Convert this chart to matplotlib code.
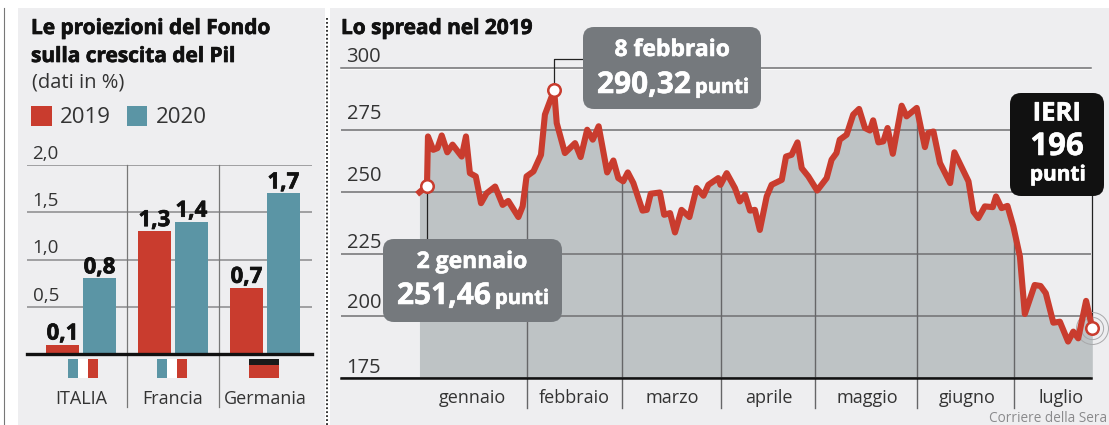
import matplotlib
matplotlib.use('Agg')
import matplotlib.pyplot as plt
import matplotlib.patheffects as pe
import numpy as np
from matplotlib.patches import FancyBboxPatch, Rectangle

plt.rcParams['font.family'] = ['Open Sans', 'DejaVu Sans']

# left chart
countries = ['ITALIA', 'Francia', 'Germania']
values_2019 = [0.1, 1.3, 0.7]
values_2020 = [0.8, 1.4, 1.7]
growth_ticks = [0.5, 1.0, 1.5, 2.0]
growth_tick_labels = ['0,5', '1,0', '1,5', '2,0']

# right chart, day of the year and spread points
spread_days = [-0.3, 2, 2.3, 3.9, 5.2, 6.5, 8.2, 9.8, 12.6, 13.9, 15.1, 16.9, 18.5, 20.2, 22.8, 25.1, 26.8, 29.9,
               31.2, 32.4, 34.5, 36.8, 38, 40.1, 40.8, 41.6, 44.1, 47.2, 48.9, 50.9, 52.6, 54.4, 57, 58.9, 60.4,
               61.9, 63.3, 65, 67.8, 69.1, 70.3, 73.1, 74.4, 76.2, 77.7, 79.7, 82.1, 84.3, 86.4, 87.9, 90.9, 91.6,
               93.5, 96, 97.5, 99.1, 100.6, 102.1, 103.6, 105.7, 107.2, 110.3, 111.6, 113.3, 115.1, 116.4, 118.4,
               121.1, 124, 125.5, 127, 128, 130.1, 132.1, 133.9, 135.7, 137.2, 138.2, 139.8, 141.3, 142.6, 144.2,
               146.9, 148.4, 151.5, 154, 155, 156.6, 158.6, 161.7, 163, 167.3, 168.8, 170.3, 172.3, 174.7, 175.7,
               177.4, 179.2, 181, 183, 184.5, 187.5, 189.3, 190.9, 193.2, 195.2, 197.7, 199.3, 200.8, 203.2, 205.1]
spread_values = [249.9, 252.5, 272.4, 267, 267.7, 272.8, 266, 269.1, 264.3, 272.4, 257.6, 256.3, 245.5, 249.5, 252.2,
                 244.8, 246.4, 239.9, 244.2, 256.3, 258.3, 265, 281.2, 288.6, 291.3, 277.8, 265.7, 269.7, 264.1,
                 275.1, 271.1, 276.5, 257.9, 262.7, 255.6, 254.3, 257.9, 253.6, 242.5, 242.8, 249.3, 249.8, 240.8,
                 241.5, 233.7, 242.8, 239.9, 251.6, 248.5, 252.9, 255.6, 252.9, 257.6, 251.6, 246.2, 248.9, 242.5,
                 242.8, 234.7, 248.2, 252.9, 254.9, 264.3, 265, 270, 259.6, 256.3, 250.6, 255.6, 263, 265.7, 271.1,
                 273.1, 281.2, 283.5, 275.8, 274.8, 278.9, 270, 270.4, 275.8, 265.4, 284.8, 280.5, 283.9, 268.1,
                 273.8, 274.4, 261.7, 253.6, 266, 254.3, 242.1, 239.5, 244.2, 243.9, 248.2, 243.5, 244.4, 236.1,
                 224, 200.8, 212.5, 212.1, 209.2, 197.3, 197.7, 189.7, 193.7, 191, 206.1, 195]
spread_ticks = [175, 200, 225, 250, 275, 300]
months = ['gennaio', 'febbraio', 'marzo', 'aprile', 'maggio', 'giugno', 'luglio']
month_label_days = [16, 46.9, 76.8, 106.4, 136.3, 166.8, 195.5]
month_edges = [32.5, 61.5, 91.7, 120.4, 151.6, 181.2]

W, H = 1109, 425
RED = '#C93C2E'
TEAL = '#5B95A5'
PANEL = '#EEEEF0'
TEXT = '#333333'
BOX = '#75797D'
HEAVY = [pe.withStroke(linewidth=0.5, foreground='#111111')]
HEAVY_WHITE = [pe.withStroke(linewidth=0.4, foreground='white')]


def px_axes(left, top, right, bottom, **kw):
    return fig.add_axes([left / W, 1 - bottom / H, (right - left) / W, (bottom - top) / H], **kw)


def callout(x0, y0, x1, y1, color):
    overlay.add_patch(FancyBboxPatch((x0 + 9, y0 + 9), x1 - x0 - 18, y1 - y0 - 18,
                                     boxstyle='round,pad=9,rounding_size=11', fc=color, ec='none', zorder=3))


def white_text(tx, ty, label, size, **kw):
    overlay.text(tx, ty, label, fontsize=size, fontweight='bold', color='white', zorder=4, path_effects=HEAVY_WHITE, **kw)


fig = plt.figure(figsize=(W / 100, H / 100), dpi=100, facecolor='white')

# panels behind everything
back = px_axes(0, 0, W, H, zorder=0)
back.set_xlim(0, W)
back.set_ylim(H, 0)
back.axis('off')
back.add_patch(Rectangle((18, 8), 307, 417, fc=PANEL, ec='none'))
back.add_patch(Rectangle((330, 8), 779, 417, fc=PANEL, ec='none'))
back.plot([4, 4], [8, 425], color='#777777', lw=0.8)
back.plot([326.5, 326.5], [18, 425], color='#222222', lw=1.3, ls=(0, (1, 1.2)))

# growth bars
ax = px_axes(27, 165, 312, 354, zorder=1)
ax.patch.set_visible(False)
x = np.arange(len(countries))
ax.set_xlim(-0.587, 2.511)
ax.set_ylim(0, 2)
for tick in growth_ticks:
    ax.axhline(tick, color='#8A8A8C', lw=1.1, zorder=1)
for edge in [0.5, 1.5]:
    ax.plot([edge, edge], [-0.56, 2], color='#777777', lw=0.9, clip_on=False, zorder=1)
bars_2019 = ax.bar(x - 0.201, values_2019, 0.364, color=RED, zorder=2)
bars_2020 = ax.bar(x + 0.201, values_2020, 0.364, color=TEAL, zorder=2)
for bars, vals in [(bars_2019, values_2019), (bars_2020, values_2020)]:
    for bar, val in zip(bars, vals):
        ax.annotate(f'{val:.1f}'.replace('.', ','), (bar.get_x() + bar.get_width() / 2, val), xytext=(0, 0),
                    textcoords='offset points', ha='center', va='bottom', fontsize=16, fontweight='bold',
                    color='#111111', zorder=3, path_effects=HEAVY)
for tick, label in zip(growth_ticks, growth_tick_labels):
    ax.annotate(label, (0, tick), xycoords=('axes fraction', 'data'), xytext=(4, 1.5), textcoords='offset points',
                ha='left', va='bottom', fontsize=13.5, color=TEXT)
ax.set_xticks(x, countries)
ax.tick_params(axis='x', length=0, pad=26, labelsize=13, labelcolor=TEXT)
ax.set_yticks([])
for side in ['top', 'left', 'right']:
    ax.spines[side].set_visible(False)
ax.spines['bottom'].set_linewidth(2.4)
ax.spines['bottom'].set_color('#111111')

# spread chart
ax2 = px_axes(341, 68, 1091, 378, zorder=1)
ax2.patch.set_visible(False)
ax2.set_xlim(-24.25, 204.7)
ax2.set_ylim(175, 300)
ax2.fill_between(spread_days, spread_values, 175, color='#BEC3C5', lw=0, zorder=1, clip_on=False)
for tick, dy in zip(spread_ticks, [0, 2, 1, 4, 4, 1]):
    gridline = ax2.axhline(tick, color='#707072', lw=1.1, zorder=2)
    if tick == 300:
        gridline.set_clip_on(False)
        gridline.set_path_effects([pe.SimpleLineShadow(offset=(0, -1), shadow_color='white', alpha=1), pe.Normal()])
    ax2.annotate(str(tick), (0, tick), xycoords=('axes fraction', 'data'), xytext=(4, dy),
                 textcoords='offset points', ha='left', va='bottom', fontsize=14.5, color=TEXT)
for edge in month_edges:
    ax2.plot([edge, edge], [163, np.interp(edge, spread_days, spread_values)], color='#666668', lw=1.0,
             clip_on=False, zorder=2)
ax2.plot(spread_days, spread_values, color=RED, lw=4.4, solid_joinstyle='round', clip_on=False, zorder=4)
ax2.set_xticks(month_label_days, months)
ax2.tick_params(axis='x', length=0, pad=8, labelsize=13, labelcolor=TEXT)
ax2.set_yticks([])
for side in ['top', 'left', 'right']:
    ax2.spines[side].set_visible(False)
ax2.spines['bottom'].set_linewidth(1.8)
ax2.spines['bottom'].set_color('#111111')

# connectors and markers
ax2.plot([spread_days[1], spread_days[1]], [spread_values[1], 229], color='#222222', lw=0.9, zorder=3)
ax2.plot([spread_days[24], spread_days[24], 50], [spread_values[24], 303.5, 303.5], color='#222222', lw=0.9,
         clip_on=False, zorder=3)
ax2.plot([spread_days[-1], spread_days[-1]], [spread_values[-1], 250], color='#222222', lw=0.9, clip_on=False, zorder=3)
for i in [1, 24, -1]:
    ax2.plot(spread_days[i], spread_values[i], 'o', ms=9, mfc='white', mec=RED, mew=1.8, clip_on=False, zorder=6)
for size in [16, 23]:
    ax2.plot(spread_days[-1], spread_values[-1], 'o', ms=size, mfc='none', mec='#A8A8AA', mew=0.7, clip_on=False,
             zorder=3)

# texts in pixel positions
overlay = px_axes(0, 0, W, H, zorder=5)
overlay.set_xlim(0, W)
overlay.set_ylim(H, 0)
overlay.axis('off')

overlay.text(31, 34, 'Le proiezioni del Fondo', fontsize=15, fontweight='bold', color='#111111', va='baseline',
             path_effects=HEAVY)
overlay.text(31, 62, 'sulla crescita del Pil', fontsize=15, fontweight='bold', color='#111111', va='baseline',
             path_effects=HEAVY)
overlay.text(32, 87, '(dati in %)', fontsize=14.5, color=TEXT, va='baseline')
overlay.text(341, 34, 'Lo spread nel 2019', fontsize=15, fontweight='bold', color='#111111', va='baseline',
             path_effects=HEAVY)

overlay.add_patch(Rectangle((31, 106), 21, 20, fc=RED, ec='none'))
overlay.add_patch(Rectangle((127, 106), 20, 20, fc=TEAL, ec='none'))
overlay.text(60, 117, '2019', fontsize=16, color=TEXT, va='center')
overlay.text(156, 117, '2020', fontsize=16, color=TEXT, va='center')

# flags
for fx in [68, 157]:
    overlay.add_patch(Rectangle((fx, 359), 10, 19, fc=TEAL, ec='none'))
    overlay.add_patch(Rectangle((fx + 10, 359), 10, 19, fc='white', ec='none'))
    overlay.add_patch(Rectangle((fx + 20, 359), 10, 19, fc=RED, ec='none'))
overlay.add_patch(Rectangle((249, 359), 30, 6, fc='#1A1A1A', ec='none'))
overlay.add_patch(Rectangle((249, 365), 30, 13, fc=RED, ec='none'))

callout(383, 239, 562, 322, BOX)
white_text(472, 262, '2 gennaio', 16.5, ha='center', va='center')
white_text(397, 304, '251,46', 21.5, va='baseline')
white_text(495, 304, 'punti', 14.5, va='baseline')

callout(583, 27, 761, 109, BOX)
white_text(672, 50, '8 febbraio', 16.5, ha='center', va='center')
white_text(597, 93, '290,32', 21.5, va='baseline')
white_text(695, 93, 'punti', 14.5, va='baseline')

callout(1010, 93, 1104, 196, '#111111')
white_text(1057, 113, 'IERI', 18.5, ha='center', va='center')
white_text(1057, 147, '196', 22.5, ha='center', va='center')
white_text(1058, 175, 'punti', 15, ha='center', va='center')

overlay.text(989, 422, 'Corriere della Sera', fontsize=9.8, color='#8A8A8C', va='baseline')

fig.savefig('out.png', dpi=100)
